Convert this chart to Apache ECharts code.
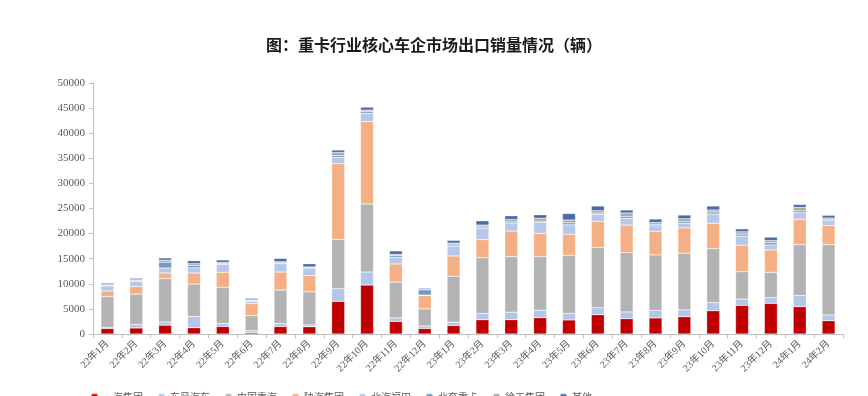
<!DOCTYPE html>
<html><head><meta charset="utf-8">
<script src="https://cdn.jsdelivr.net/npm/echarts@6/dist/echarts.min.js"></script>
<style>html,body{margin:0;padding:0;background:#fff}#c{width:868px;height:396px}</style>
</head><body><div id="c"></div>
<script>
const categories = ['22年1月','22年2月','22年3月','22年4月','22年5月','22年6月','22年7月','22年8月','22年9月','22年10月','22年11月','22年12月','23年1月','23年2月','23年3月','23年4月','23年5月','23年6月','23年7月','23年8月','23年9月','23年10月','23年11月','23年12月','24年1月','24年2月'];
const yiqi    = [1100,1200,1750,1250,1500,250,1500,1450,6500,9750,2500,1100,1700,2850,2850,3250,2800,3850,3050,3200,3450,4650,5700,6100,5450,2650];
const dongfeng= [200,700,650,2250,600,400,600,350,2550,2600,700,500,650,1250,1500,1500,1300,1400,1350,1500,1350,1600,1250,1150,2250,1150];
const zhongqi = [6150,6050,8650,6450,7200,3000,6650,6600,9800,13550,7150,3400,9150,11100,11050,10650,11550,12000,11800,11050,11300,10750,5450,5050,10100,14000];
const shanqi  = [1130,1500,1100,2200,3000,2400,3600,3250,15100,16400,3600,2650,4050,3600,5100,4650,4200,5200,5500,4650,5050,5050,5300,4450,5000,3800];
const futian  = [1000,1050,1000,1050,1600,500,1650,1350,1250,1650,1300,100,1950,2300,1600,2200,1900,1400,1350,1150,900,1850,1800,1000,1400,950];
const beiben  = [150,150,1150,450,150,150,150,200,350,350,350,1050,250,250,250,250,400,250,400,300,350,400,400,450,350,200];
const xugong  = [100,150,400,350,200,100,250,150,600,300,250,200,350,350,450,550,550,450,650,350,550,400,450,400,650,350];
const others  = [300,300,450,600,500,300,650,650,500,600,700,200,550,850,750,700,1300,950,600,700,750,800,600,700,600,550];
const seriesNames = ['一汽集团','东风汽车','中国重汽','陕汽集团','北汽福田','北奔重卡','徐工集团','其他'];
const seriesData = [yiqi,dongfeng,zhongqi,shanqi,futian,beiben,xugong,others];
const colors = ['#C00000','#B4C6E7','#B3B3B3','#F4B084','#B7C7EA','#6A9CC3','#A6A6A6','#4A6BA8'];
const yTicks = {min:0,max:50000,interval:5000};

const chart = echarts.init(document.getElementById('c'), null, {renderer:'canvas'});
const font = '"Liberation Serif","Noto Sans CJK SC",serif';
chart.setOption({
  animation:false,
  color: colors,
  title:{text:'图：重卡行业核心车企市场出口销量情况（辆）',left:'center',top:32,
    textStyle:{fontSize:16,fontWeight:'bold',color:'#1a1a1a',fontFamily:'"Noto Sans CJK SC",sans-serif'}},
  legend:{data:seriesNames,top:387,left:85,itemWidth:7,itemHeight:7,itemGap:14,
    textStyle:{fontSize:10,color:'#595959',fontFamily:'"Noto Sans CJK SC",sans-serif'}},
  grid:{left:93,right:25,top:83,bottom:62,containLabel:false},
  xAxis:{type:'category',data:categories,
    axisLine:{lineStyle:{color:'#BFBFBF'}},
    axisTick:{show:true,alignWithLabel:false,length:4,lineStyle:{color:'#BFBFBF'}},
    axisLabel:{rotate:45,fontSize:10,color:'#595959',fontFamily:font,margin:8,interval:0}},
  yAxis:{type:'value',min:yTicks.min,max:yTicks.max,interval:yTicks.interval,
    splitLine:{show:false},
    axisLine:{show:true,lineStyle:{color:'#BFBFBF'}},
    axisTick:{show:true,length:4,lineStyle:{color:'#BFBFBF'}},
    axisLabel:{fontSize:11,color:'#595959',fontFamily:font,margin:8,formatter:v=>String(v)}},
  series: seriesData.map((d,i)=>({
    name:seriesNames[i],type:'bar',stack:'total',data:d,barWidth:13,
    itemStyle:{color:colors[i],borderColor:'rgba(255,255,255,0.5)',borderWidth:0.5}
  }))
});
</script></body></html>
